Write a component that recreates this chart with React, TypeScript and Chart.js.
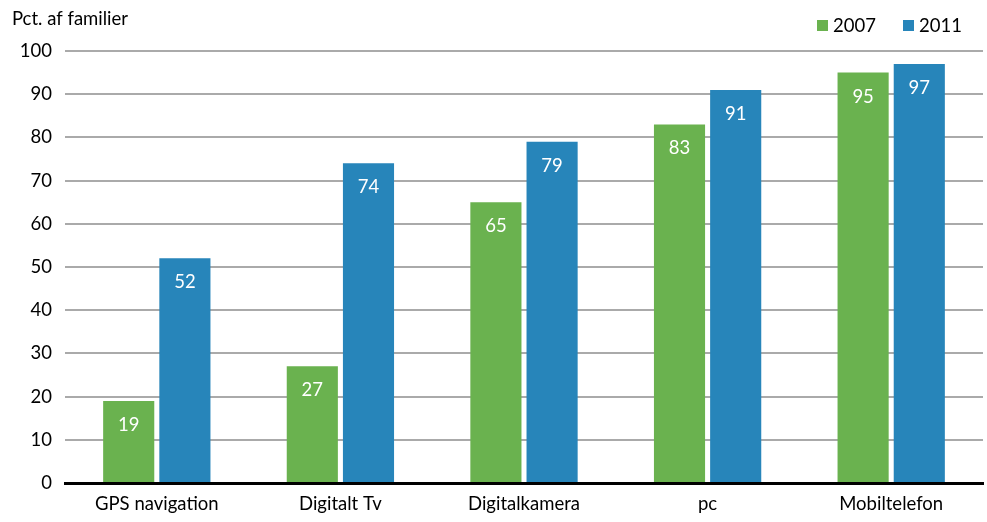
import React, { useEffect, useRef } from "react";
import { Chart, registerables } from "chart.js";

Chart.register(...registerables);

const categories = ["GPS navigation", "Digitalt Tv", "Digitalkamera", "pc", "Mobiltelefon"];
const values2007 = [19, 27, 65, 83, 95];
const values2011 = [52, 74, 79, 91, 97];
const seriesNames = ["2007", "2011"];
const yTitle = "Pct. af familier";

const GREEN = "#6ab24f";
const BLUE = "#2785ba";
const FONT = "Lato, 'Open Sans', sans-serif";

const overlayPlugin = {
  id: "overlay",
  afterDatasetsDraw(chart: any) {
    const ctx = chart.ctx;
    ctx.save();
    // value labels
    ctx.font = `18.5px ${FONT}`;
    ctx.fillStyle = "#ffffff";
    ctx.textAlign = "center";
    ctx.textBaseline = "middle";
    chart.data.datasets.forEach((ds: any, i: number) => {
      const meta = chart.getDatasetMeta(i);
      meta.data.forEach((bar: any, j: number) => {
        ctx.fillText(String(ds.data[j]), bar.x, bar.y + 24);
      });
    });
    // title
    ctx.fillStyle = "#000000";
    ctx.textAlign = "left";
    ctx.font = `18.5px ${FONT}`;
    ctx.fillText(yTitle, 12, 19);
    // legend
    const colors = [GREEN, BLUE];
    const xs = [817, 903];
    seriesNames.forEach((name, i) => {
      ctx.fillStyle = colors[i];
      ctx.fillRect(xs[i], 20, 11, 11);
      ctx.fillStyle = "#000000";
      ctx.fillText(name, xs[i] + 16, 26);
    });
    ctx.restore();
  },
};

export default function App() {
  const ref = useRef<HTMLCanvasElement>(null);
  useEffect(() => {
    document.body.style.margin = "0";
    const chart = new Chart(ref.current!, {
      type: "bar",
      data: {
        labels: categories,
        datasets: [
          { label: seriesNames[0], data: values2007, backgroundColor: GREEN, categoryPercentage: 0.612, barPercentage: 0.91 },
          { label: seriesNames[1], data: values2011, backgroundColor: BLUE, categoryPercentage: 0.612, barPercentage: 0.91 },
        ],
      },
      options: {
        responsive: false,
        animation: false,
        layout: { padding: { top: 51, right: 4, left: 0, bottom: 0 } },
        plugins: { legend: { display: false }, tooltip: { enabled: false } },
        scales: {
          x: {
            grid: { display: false, drawTicks: false },
            border: { display: true, color: "#000000", width: 3 },
            ticks: { color: "#000000", font: { family: FONT, size: 18.5 }, padding: 10 },
            afterFit(scale: any) { scale.height = 39; },
          },
          y: {
            min: 0,
            max: 100,
            ticks: { stepSize: 10, color: "#000000", font: { family: FONT, size: 18.5 }, padding: 13 },
            grid: { color: "#aaaaaa", lineWidth: 2, drawTicks: false },
            border: { display: false },
            afterFit(scale: any) { scale.width = 65; },
          },
        },
      },
      plugins: [overlayPlugin],
    });
    return () => chart.destroy();
  }, []);
  return <canvas ref={ref} width={987} height={522} style={{ display: "block" }} />;
}
